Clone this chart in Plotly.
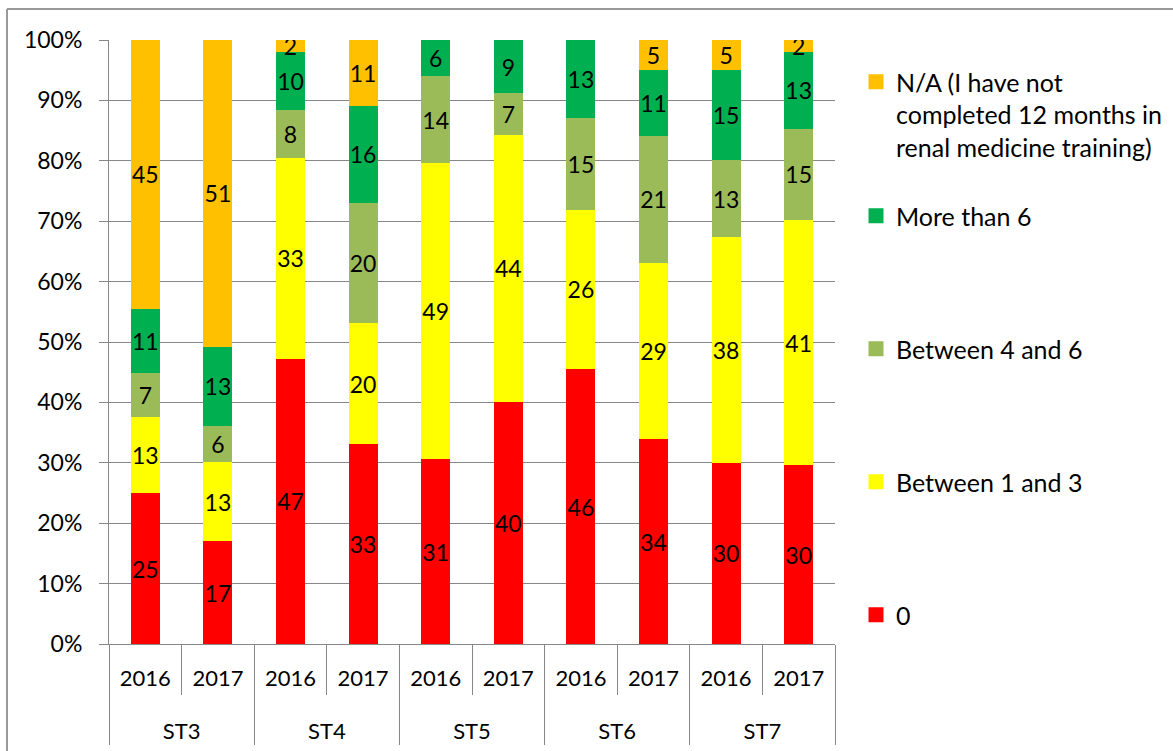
import plotly.graph_objects as go

groups = ["ST3", "ST3", "ST4", "ST4", "ST5", "ST5", "ST6", "ST6", "ST7", "ST7"]
years = ["2016", "2017"] * 5

# segment heights (% of bar)
v_zero = [25.0, 17.0, 47.2, 33.1, 30.6, 40.1, 45.5, 33.9, 30.0, 29.6]
v_1to3 = [12.6, 13.1, 33.3, 20.0, 49.0, 44.2, 26.4, 29.2, 37.4, 40.6]
v_4to6 = [7.3, 6.0, 7.9, 19.9, 14.4, 6.9, 15.2, 21.0, 12.7, 15.1]
v_more6 = [10.6, 13.1, 9.6, 16.1, 6.0, 8.8, 12.9, 10.9, 14.9, 12.7]
v_na = [44.5, 50.8, 2.0, 10.9, 0.0, 0.0, 0.0, 5.0, 5.0, 2.0]

# data labels as printed on the chart
l_zero = [25, 17, 47, 33, 31, 40, 46, 34, 30, 30]
l_1to3 = [13, 13, 33, 20, 49, 44, 26, 29, 38, 41]
l_4to6 = [7, 6, 8, 20, 14, 7, 15, 21, 13, 15]
l_more6 = [11, 13, 10, 16, 6, 9, 13, 11, 15, 13]
l_na = [45, 51, 2, 11, None, None, None, 5, 5, 2]

series = [
    ("0", v_zero, l_zero, "#FF0000"),
    ("Between 1 and 3", v_1to3, l_1to3, "#FFFF00"),
    ("Between 4 and 6", v_4to6, l_4to6, "#9BBB59"),
    ("More than 6", v_more6, l_more6, "#00B050"),
    ("N/A (I have not<br>completed 12 months in<br>renal medicine training)", v_na, l_na, "#FFC000"),
]

FONT = "Lato, 'Open Sans', sans-serif"
FS_X = 22
FS_XLINE = 26
FS_Y = 23
FS_LBL = 23
FS_LEG = 25
W, H = 1173, 751
L, R, T, B = 109, 338, 40, 107

# two-row category axis: group labels drawn one line lower
span = "<span style='font-size:%dpx'>%s</span>"
group_labels = ["<br>" + span % (FS_X, g) for g in groups]
year_labels = [span % (FS_X, y) for y in years]

fig = go.Figure()
legend_y_px = [615, 482, 349, 216, 59]
for i, (name, vals, labs, col) in enumerate(series):
    lname = "legend" if i == 0 else f"legend{i+1}"
    fig.add_trace(go.Bar(
        x=[group_labels, year_labels], y=vals, name=name,
        marker=dict(color=col, line=dict(width=0)),
        text=[("" if t is None else str(t)) for t in labs],
        textposition="inside", insidetextanchor="middle",
        constraintext="none", textangle=0,
        insidetextfont=dict(color="black", size=FS_LBL, family=FONT),
        showlegend=False, hoverinfo="skip",
    ))
    fig.add_trace(go.Scatter(
        x=[None], y=[None], mode="markers", name=name,
        marker=dict(symbol="square", size=15, color=col),
        legend=lname, showlegend=True,
    ))

layout_legends = {}
for i, py in enumerate(legend_y_px):
    lname = "legend" if i == 0 else f"legend{i+1}"
    is_na = i == 4
    layout_legends[lname] = dict(
        x=856 / W, xref="container", xanchor="left",
        y=1 - py / H, yref="container",
        yanchor="top" if is_na else "middle",
        valign="top" if is_na else "middle",
        bgcolor="rgba(0,0,0,0)", borderwidth=0,
        font=dict(family=FONT, size=FS_LEG, color="black"),
        itemclick=False, itemdoubleclick=False,
    )

fig.update_layout(
    barmode="stack", bargap=0.6,
    width=W, height=H,
    margin=dict(l=L, r=R, t=T, b=B, pad=0, autoexpand=False),
    paper_bgcolor="white", plot_bgcolor="white",
    font=dict(family=FONT, size=FS_X, color="black"),
    **layout_legends,
)

fig.update_yaxes(
    range=[0, 100], dtick=10, ticksuffix="%",
    showgrid=True, gridcolor="#878787", gridwidth=1,
    showline=True, linecolor="#878787", linewidth=1,
    ticks="outside", ticklen=9, tickcolor="#878787",
    ticklabelstandoff=12, zeroline=False, automargin=False,
    tickfont=dict(family=FONT, size=FS_Y, color="black"),
)
fig.update_xaxes(
    showline=True, linecolor="#878787", linewidth=1,
    ticks="outside", tickson="boundaries", ticklen=50, tickcolor="#878787",
    showdividers=True, dividercolor="#878787", dividerwidth=1,
    ticklabelstandoff=10, automargin=False,
    tickfont=dict(family=FONT, size=FS_XLINE, color="black"),
    showgrid=False,
)

# outer chart border (top and left edges visible)
pw, ph = W - L - R, H - T - B
def px_x(px):
    return (px - L) / pw
def px_y(py):
    return (H - B - py) / ph
fig.add_shape(type="line", xref="paper", yref="paper",
              x0=px_x(7), x1=px_x(1180), y0=px_y(9), y1=px_y(9),
              line=dict(color="#999999", width=2), layer="above")
fig.add_shape(type="line", xref="paper", yref="paper",
              x0=px_x(7), x1=px_x(7), y0=px_y(9), y1=px_y(760),
              line=dict(color="#999999", width=2), layer="above")

fig.write_html(
    "out.html",
    config={"displayModeBar": False},
    post_script="document.body.style.margin='0px';document.body.style.padding='0px';",
)
